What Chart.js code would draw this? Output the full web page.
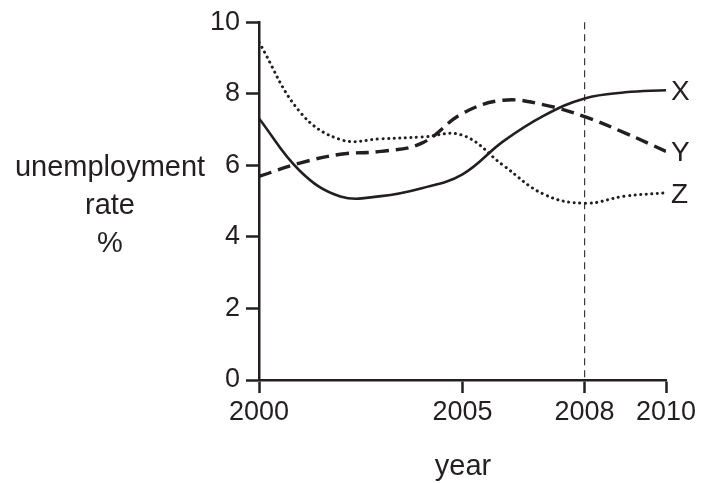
<!DOCTYPE html>
<html>
<head>
<meta charset="utf-8">
<script src="https://cdn.jsdelivr.net/npm/chart.js@4.4.1/dist/chart.umd.min.js"></script>
<style>
  html, body { margin: 0; padding: 0; background: #fff; }
  #wrap { width: 701px; height: 483px; }
</style>
</head>
<body>
<div id="wrap"><canvas id="myChart"></canvas></div>
<script>
// values
var years = [2000, 2001, 2002, 2003, 2004, 2005, 2006, 2007, 2008, 2009, 2010];
var seriesX = [7.31, 5.85, 5.13, 5.14, 5.36, 5.75, 6.67, 7.39, 7.87, 8.04, 8.1];
var seriesY = [5.69, 6.06, 6.31, 6.39, 6.62, 7.45, 7.82, 7.69, 7.36, 6.9, 6.39];
var seriesZ = [9.44, 7.5, 6.72, 6.74, 6.79, 6.84, 6.0, 5.19, 4.94, 5.14, 5.23];
var seriesNames = ["X", "Y", "Z"];
var xTicks = [2000, 2005, 2008, 2010];
var yTicks = [0, 2, 4, 6, 8, 10];
var markYear = 2008;

var ink = "#231f20";
var fontFamily = "'Liberation Sans', Arial, sans-serif";

function toPoints(vals) {
  return vals.map(function (v, i) {
    return { x: years[i], y: v };
  });
}

// dashed line at 2008, series end labels and the y title
var extras = {
  id: "extras",
  beforeDatasetsDraw: function (chart) {
    var ctx = chart.ctx;
    var xs = chart.scales.x;
    var area = chart.chartArea;
    var px = xs.getPixelForValue(markYear);
    ctx.save();
    ctx.strokeStyle = "#3a3a3a";
    ctx.lineWidth = 1.2;
    ctx.setLineDash([7, 5]);
    ctx.beginPath();
    ctx.moveTo(px, area.top);
    ctx.lineTo(px, area.bottom);
    ctx.stroke();
    ctx.restore();
  },
  afterDraw: function (chart) {
    var ctx = chart.ctx;
    ctx.save();
    ctx.fillStyle = ink;
    ctx.font = "28px " + fontFamily;
    ctx.textBaseline = "middle";
    ctx.textAlign = "left";
    chart.data.datasets.forEach(function (ds, i) {
      var meta = chart.getDatasetMeta(i);
      var last = meta.data[meta.data.length - 1];
      ctx.fillText(seriesNames[i], last.x + 5, last.y + 2);
    });
    ctx.font = "29px " + fontFamily;
    ctx.textAlign = "center";
    ctx.fillText("unemployment", 110, 168);
    ctx.fillText("rate", 110, 206);
    ctx.fillText("%", 110, 244);
    ctx.fillText("year", 463, 467);
    ctx.restore();
  },
};

var ctx = document.getElementById("myChart").getContext("2d");

var myChart = new Chart(ctx, {
  type: "line",
  data: {
    datasets: [
      {
        label: seriesNames[0],
        data: toPoints(seriesX),
        borderColor: ink,
        borderWidth: 2.6,
        pointRadius: 0,
        tension: 0.4,
      },
      {
        label: seriesNames[1],
        data: toPoints(seriesY),
        borderColor: ink,
        borderWidth: 3.4,
        borderDash: [13, 7],
        pointRadius: 0,
        tension: 0.4,
      },
      {
        label: seriesNames[2],
        data: toPoints(seriesZ),
        borderColor: ink,
        borderWidth: 3,
        borderDash: [0.1, 5.5],
        borderCapStyle: "round",
        pointRadius: 0,
        tension: 0.4,
      },
    ],
  },
  options: {
    responsive: true,
    maintainAspectRatio: false,
    animation: false,
    layout: {
      padding: { left: 0, right: 35, top: 20, bottom: 0 },
    },
    plugins: {
      legend: { display: false },
      tooltip: { enabled: false },
    },
    scales: {
      x: {
        type: "linear",
        min: 2000,
        max: 2010,
        afterBuildTicks: function (scale) {
          scale.ticks = xTicks.map(function (v) {
            return { value: v };
          });
        },
        afterFit: function (scale) {
          scale.height = 103;
        },
        grid: {
          drawOnChartArea: false, // only the tick marks
          tickLength: 13,
          tickWidth: 2.5,
          tickColor: ink,
        },
        border: { color: ink, width: 2.5 },
        ticks: {
          color: ink,
          padding: 3,
          maxRotation: 0,
          autoSkip: false,
          font: { size: 27, family: fontFamily },
          callback: function (v) {
            return String(v);
          },
        },
      },
      y: {
        min: 0,
        max: 10,
        afterBuildTicks: function (scale) {
          scale.ticks = yTicks.map(function (v) {
            return { value: v };
          });
        },
        afterFit: function (scale) {
          scale.width = 259;
        },
        grid: {
          drawOnChartArea: false,
          tickLength: 13,
          tickWidth: 2.5,
          tickColor: ink,
        },
        border: { color: ink, width: 2.5 },
        ticks: {
          color: ink,
          padding: 6,
          font: { size: 27, family: fontFamily },
        },
      },
    },
  },
  plugins: [extras],
});
</script>
</body>
</html>
